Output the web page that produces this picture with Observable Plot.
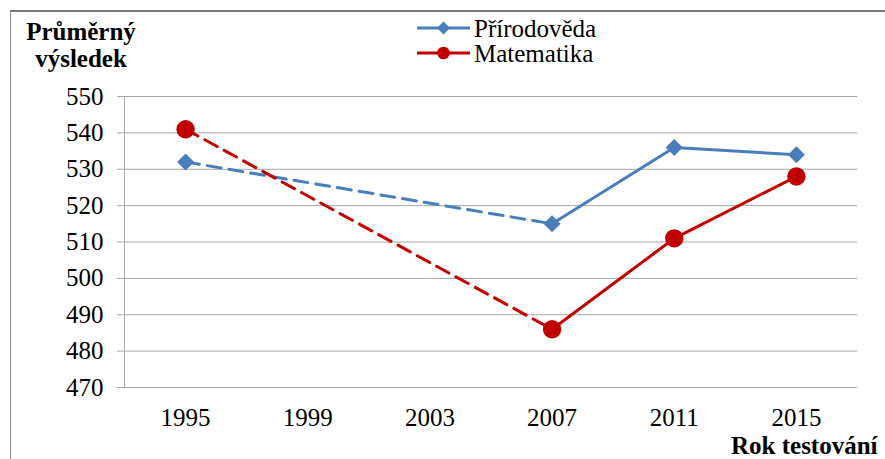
<!DOCTYPE html>
<html>
<head>
<meta charset="utf-8">
<script src="https://cdn.jsdelivr.net/npm/d3@7"></script>
<script src="https://cdn.jsdelivr.net/npm/@observablehq/plot@0.6"></script>
<style>
  html, body { margin: 0; padding: 0; background: #fff; }
  #wrap { position: relative; width: 885px; height: 459px; overflow: hidden; background: #fff; }
  #border { position: absolute; left: 10px; top: 10px; width: 900px; height: 480px;
            border-left: 1px solid #8a8a8a; border-top: 2px solid #7a7a7a; box-sizing: border-box; }
  #wrap svg { position: absolute; left: 0; top: 0; }
  #wrap svg text { font-family: 'Liberation Serif', 'Times New Roman', serif !important; }
</style>
</head>
<body>
<div id="wrap"><div id="border"></div></div>
<script>
// ---- data ----
const years = [1995, 1999, 2003, 2007, 2011, 2015];
const priroda = [532, null, null, 515, 536, 534];
const matematika = [541, null, null, 486, 511, 528];
const yTicks = [470, 480, 490, 500, 510, 520, 530, 540, 550];
const seriesNames = ["Přírodověda", "Matematika"];
const seriesColors = ["#4A7EBB", "#C00000"];
const yTitle = ["Průměrný", "výsledek"];
const xTitle = "Rok testování";

const FONT = "Liberation Serif";

function rowsOf(name, vals) {
  return years.map((yr, i) => ({series: name, year: yr, value: vals[i]}))
              .filter(d => d.value != null);
}
const rows = [...rowsOf(seriesNames[0], priroda), ...rowsOf(seriesNames[1], matematika)];
const dashed = rows.filter(d => d.year <= 2007);
const solid = rows.filter(d => d.year >= 2007);

const chart = Plot.plot({
  width: 885,
  height: 459,
  marginLeft: 124,
  marginRight: 28,
  marginTop: 96,
  marginBottom: 72,
  style: {fontFamily: FONT, fontSize: "25px", color: "#000", background: "transparent", overflow: "visible"},
  x: {type: "linear", domain: [1993, 2017], axis: null},
  y: {domain: [470, 550], axis: null},
  color: {domain: seriesNames, range: seriesColors},
  marks: [
    Plot.ruleY(yTicks, {stroke: "#a6a6a6", strokeWidth: 1, insetLeft: -7}),
    Plot.ruleX([1993], {stroke: "#a6a6a6", strokeWidth: 1}),
    Plot.axisY({ticks: yTicks, tickSize: 0, tickPadding: 21, fontSize: 25, fontFamily: FONT, label: null, anchor: "left"}),
    Plot.axisX({ticks: years, tickSize: 0, tickPadding: 21, fontSize: 25, fontFamily: FONT, label: null, anchor: "bottom", tickFormat: d => String(d)}),
    Plot.line(dashed, {x: "year", y: "value", z: "series", stroke: "series", strokeWidth: 3, strokeDasharray: "14,8"}),
    Plot.line(solid, {x: "year", y: "value", z: "series", stroke: "series", strokeWidth: 3}),
    Plot.dot(rows.filter(d => d.series === seriesNames[0]), {x: "year", y: "value", symbol: "diamond2", r: 7.7, fill: seriesColors[0]}),
    Plot.dot(rows.filter(d => d.series === seriesNames[1]), {x: "year", y: "value", symbol: "circle", r: 9.2, fill: seriesColors[1]})
  ]
});

document.getElementById("wrap").appendChild(chart);

// ---- titles & legend ----
const svg = d3.select(chart);
const g = svg.append("g").attr("font-family", FONT).attr("fill", "#000").attr("text-anchor", "start");

g.append("text").attr("x", 81).attr("y", 40).attr("text-anchor", "middle")
  .attr("font-weight", "bold").attr("font-size", 25).text(yTitle[0]);
g.append("text").attr("x", 81).attr("y", 66.5).attr("text-anchor", "middle")
  .attr("font-weight", "bold").attr("font-size", 25).text(yTitle[1]);
g.append("text").attr("x", 731).attr("y", 454).attr("text-anchor", "start")
  .attr("font-weight", "bold").attr("font-size", 25).text(xTitle);

const legendY = [28, 53];
const legendSymbols = [d3.symbol(d3.symbolDiamond2, 6.5 * 6.5 / (0.62625 * 0.62625)), d3.symbol(d3.symbolCircle, Math.PI * 6.3 * 6.3)];
seriesNames.forEach((name, i) => {
  const lg = g.append("g").attr("transform", `translate(0,${legendY[i]})`);
  lg.append("line").attr("x1", 417).attr("x2", 470).attr("y1", 0).attr("y2", 0)
    .attr("stroke", seriesColors[i]).attr("stroke-width", 3);
  lg.append("path").attr("d", legendSymbols[i]()).attr("transform", "translate(443.5,0)")
    .attr("fill", seriesColors[i]);
  lg.append("text").attr("x", 474).attr("y", 0).attr("dy", "0.34em")
    .attr("text-anchor", "start").attr("font-size", 25).text(name);
});
</script>
</body>
</html>
